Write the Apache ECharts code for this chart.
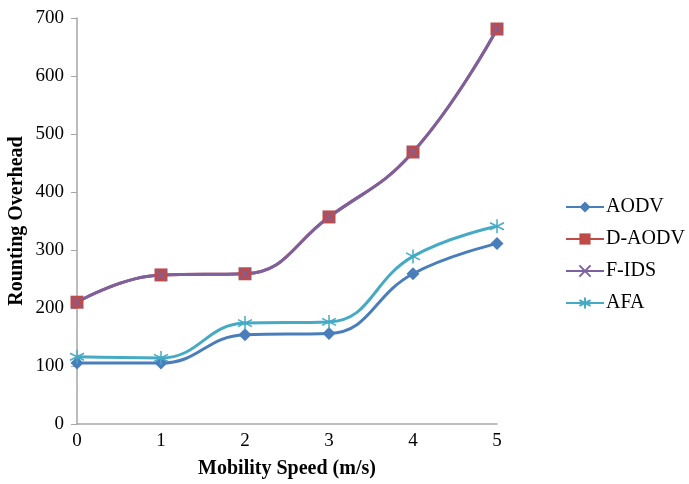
<!DOCTYPE html>
<html>
<head>
<meta charset="utf-8">
<script src="https://cdn.jsdelivr.net/npm/echarts@6/dist/echarts.min.js"></script>
<style>
  html, body { margin: 0; padding: 0; background: #fff; }
  #chart { width: 689px; height: 484px; }
</style>
</head>
<body>
<div id="chart"></div>
<script>
// Mobility speed (m/s) on the x axis
const speeds = [0, 1, 2, 3, 4, 5];
const yTicks = [0, 100, 200, 300, 400, 500, 600, 700];

// Routing overhead per protocol
const aodv  = [105, 105, 154, 156, 259, 311];
const dAodv = [210, 257, 259, 357, 469, 681];
const fIds  = [210, 257, 259, 357, 469, 681];
const afa   = [116, 114, 174, 176, 289, 341];

const FONT = '"Liberation Serif", "Times New Roman", serif';

const crossPath = 'path://M-5,-5L5,5M-5,5L5,-5';
const starPath  = 'path://M0,-6L0,6M-5.2,-3L5.2,3M-5.2,3L5.2,-3';

function pairs(vals) {
  return speeds.map((s, i) => [s, vals[i]]);
}

const chart = echarts.init(document.getElementById('chart'), null, { renderer: 'canvas' });

chart.setOption({
  animation: false,
  backgroundColor: '#fff',
  grid: { left: 77, right: 192, top: 18, bottom: 60, containLabel: false, outerBoundsMode: 'none' },
  legend: {
    orient: 'vertical',
    left: 565,
    top: 197,
    padding: 0,
    itemWidth: 38,
    itemHeight: 14,
    itemGap: 12,
    textStyle: { fontFamily: FONT, fontSize: 20, color: '#000', padding: [0, 0, 0, -3] },
    data: ['AODV', 'D-AODV', 'F-IDS', 'AFA']
  },
  xAxis: {
    type: 'value',
    min: 0,
    max: 5,
    interval: 1,
    name: 'Mobility Speed (m/s)',
    nameLocation: 'middle',
    nameGap: 35,
    nameMoveOverlap: false,
    nameTextStyle: { fontFamily: FONT, fontSize: 20, fontWeight: 'bold', color: '#000' },
    axisLine: { show: true, lineStyle: { color: '#a6a6a6', width: 1.5 } },
    axisTick: { show: false },
    splitLine: { show: false },
    axisLabel: { fontFamily: FONT, fontSize: 19, color: '#000', margin: 8 }
  },
  yAxis: {
    type: 'value',
    min: yTicks[0],
    max: yTicks[yTicks.length - 1],
    interval: yTicks[1] - yTicks[0],
    name: 'Rounting Overhead',
    nameLocation: 'middle',
    nameGap: 50,
    nameMoveOverlap: false,
    nameTextStyle: { fontFamily: FONT, fontSize: 20, fontWeight: 'bold', color: '#000' },
    axisLine: { show: true, lineStyle: { color: '#a6a6a6', width: 1.5 } },
    axisTick: { show: true, inside: false, length: 6, lineStyle: { color: '#a6a6a6', width: 1 } },
    splitLine: { show: false },
    axisLabel: { fontFamily: FONT, fontSize: 19, color: '#000', margin: 13 }
  },
  series: [
    {
      name: 'AODV',
      type: 'line',
      smooth: 0.45,
      data: pairs(aodv),
      symbol: 'diamond',
      symbolSize: 13,
      lineStyle: { color: '#4a7ebb', width: 3 },
      itemStyle: { color: '#4a7ebb' }
    },
    {
      name: 'D-AODV',
      type: 'line',
      smooth: 0.45,
      data: pairs(dAodv),
      symbol: 'rect',
      symbolSize: 13,
      lineStyle: { color: '#be4b48', width: 3 },
      itemStyle: { color: '#be4b48' }
    },
    {
      name: 'F-IDS',
      type: 'line',
      smooth: 0.45,
      data: pairs(fIds),
      symbol: crossPath,
      symbolSize: 11,
      lineStyle: { color: '#7d60a0', width: 3 },
      itemStyle: { color: 'transparent', borderColor: '#7d60a0', borderWidth: 1.5 }
    },
    {
      name: 'AFA',
      type: 'line',
      smooth: 0.45,
      data: pairs(afa),
      symbol: starPath,
      symbolSize: 14,
      lineStyle: { color: '#46aac5', width: 3 },
      itemStyle: { color: 'transparent', borderColor: '#46aac5', borderWidth: 1.5 }
    }
  ]
});
</script>
</body>
</html>
